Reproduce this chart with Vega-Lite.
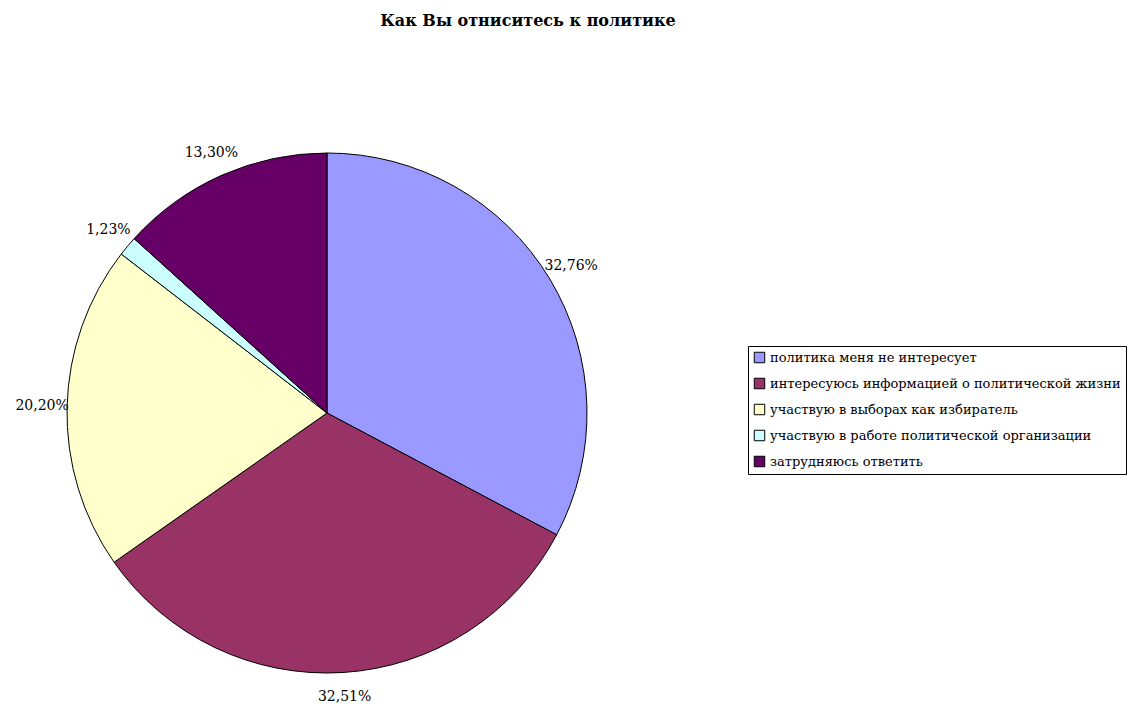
{
  "$schema": "https://vega.github.io/schema/vega-lite/v6.json",
  "autosize": "none",
  "width": 654,
  "height": 560,
  "padding": {"left": 0, "top": 133, "right": 494, "bottom": 11},
  "background": "white",
  "title": {
    "text": "Как Вы отниситесь к политике",
    "font": "DejaVu Serif",
    "fontSize": 16,
    "fontWeight": "bold",
    "color": "black",
    "anchor": "middle",
    "frame": "group",
    "baseline": "alphabetic",
    "offset": 91,
    "dx": 201
  },
  "data": {
    "values": [
      {"i": 1, "category": "политика меня не интересует", "value": 32.76, "label": "32,76%"},
      {"i": 2, "category": "интересуюсь информацией о политической жизни", "value": 32.51, "label": "32,51%"},
      {"i": 3, "category": "участвую в выборах как избиратель", "value": 20.20, "label": "20,20%"},
      {"i": 4, "category": "участвую в работе политической организации", "value": 1.23, "label": "1,23%"},
      {"i": 5, "category": "затрудняюсь ответить", "value": 13.30, "label": "13,30%"}
    ]
  },
  "encoding": {
    "theta": {"field": "value", "type": "quantitative", "stack": true},
    "order": {"field": "i", "type": "quantitative"}
  },
  "layer": [
    {
      "mark": {"type": "arc", "outerRadius": 260, "stroke": "black", "strokeWidth": 1},
      "encoding": {
        "color": {
          "field": "category",
          "type": "nominal",
          "scale": {
            "domain": [
              "политика меня не интересует",
              "интересуюсь информацией о политической жизни",
              "участвую в выборах как избиратель",
              "участвую в работе политической организации",
              "затрудняюсь ответить"
            ],
            "range": ["#9999FF", "#993366", "#FFFFCC", "#CCFFFF", "#660066"]
          },
          "legend": {
            "title": null,
            "orient": "none",
            "legendX": 748,
            "legendY": 213,
            "strokeColor": "black",
            "fillColor": "white",
            "padding": 5,
            "labelFont": "DejaVu Serif",
            "labelFontSize": 13,
            "labelColor": "black",
            "labelLimit": 600,
            "labelOffset": 4,
            "rowPadding": 11,
            "symbolType": "square",
            "symbolSize": 110,
            "symbolStrokeColor": "black",
            "symbolStrokeWidth": 1,
            "symbolOpacity": 1
          }
        }
      }
    },
    {
      "mark": {"type": "text", "radius": 285, "font": "DejaVu Serif", "fontSize": 14, "color": "black"},
      "encoding": {
        "text": {"field": "label", "type": "nominal"}
      }
    }
  ]
}
